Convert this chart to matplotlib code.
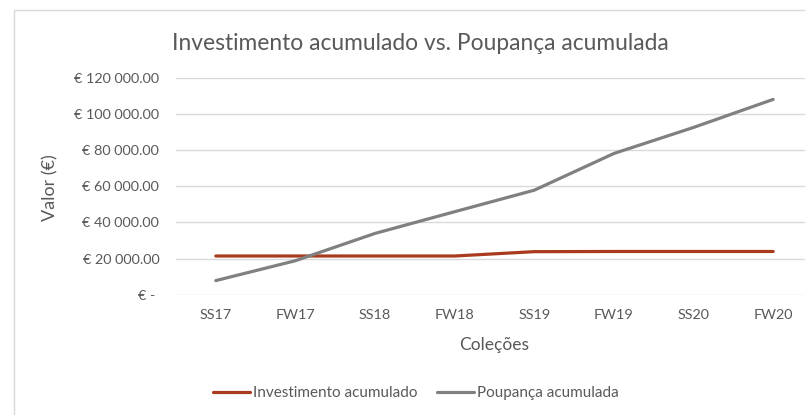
import matplotlib.pyplot as plt
from matplotlib.patches import Rectangle
from matplotlib.ticker import FuncFormatter

colecoes = ["SS17", "FW17", "SS18", "FW18", "SS19", "FW19", "SS20", "FW20"]
investimento = [21400, 21400, 21400, 21400, 23800, 23900, 23900, 23900]
poupanca = [7800, 18800, 33900, 45900, 57800, 78100, 92500, 108000]
y_ticks = [0, 20000, 40000, 60000, 80000, 100000, 120000]

plt.rcParams['font.family'] = ['Lato', 'DejaVu Sans']
txt = '#595959'

fig = plt.figure(figsize=(8.05, 4.15), dpi=100)
# chart border (cropped screenshot)
fig.patches.append(Rectangle((14 / 805, -0.1), 1.2, 1 - 10 / 415 + 0.1,
                             transform=fig.transFigure, fill=False,
                             edgecolor='#D9D9D9', linewidth=1))

ax = fig.add_axes([176 / 805, 1 - 294.7 / 415, 637 / 805, 217 / 415])
x = range(len(colecoes))
l1, = ax.plot(x, investimento, color='#A93A1D', linewidth=2.3, solid_capstyle='round')
l2, = ax.plot(x, poupanca, color='#808080', linewidth=2.3, solid_capstyle='round')

ax.set_xlim(-0.5, 7.5)
ax.set_ylim(0, 120000)
ax.set_yticks(y_ticks)
ax.set_xticks(list(x))
ax.set_xticklabels(colecoes, fontsize=10.6)


def fmt(v, pos):
    if v == 0:
        return '€ - '
    return '€ ' + f'{v:,.2f}'.replace(',', ' ')


ax.yaxis.set_major_formatter(FuncFormatter(fmt))
ax.grid(axis='y', color='#D9D9D9', linewidth=1)
ax.set_axisbelow(True)
for s in ax.spines.values():
    s.set_visible(False)
ax.tick_params(length=0, colors=txt, labelsize=10.4)
ax.tick_params(axis='y', pad=12)
ax.tick_params(axis='x', pad=10)

fig.text(494 / 805, 1 - 345 / 415, 'Coleções', color=txt, fontsize=12.5,
         ha='center', va='center')
fig.text(50 / 805, 1 - 188 / 415, 'Valor (€)', rotation=90, color=txt,
         fontsize=13, ha='center', va='center')
fig.text(420 / 805, 1 - 43 / 415, 'Investimento acumulado vs. Poupança acumulada',
         color=txt, fontsize=16.4, ha='center', va='center')

fig.legend([l1, l2], ['Investimento acumulado', 'Poupança acumulada'],
           loc='center', bbox_to_anchor=(416 / 805, 1 - 393 / 415), ncol=2,
           frameon=False, fontsize=11, labelcolor=txt, handlelength=2.4,
           handletextpad=0.2, columnspacing=1.3)

fig.savefig('out.png', dpi=100)
